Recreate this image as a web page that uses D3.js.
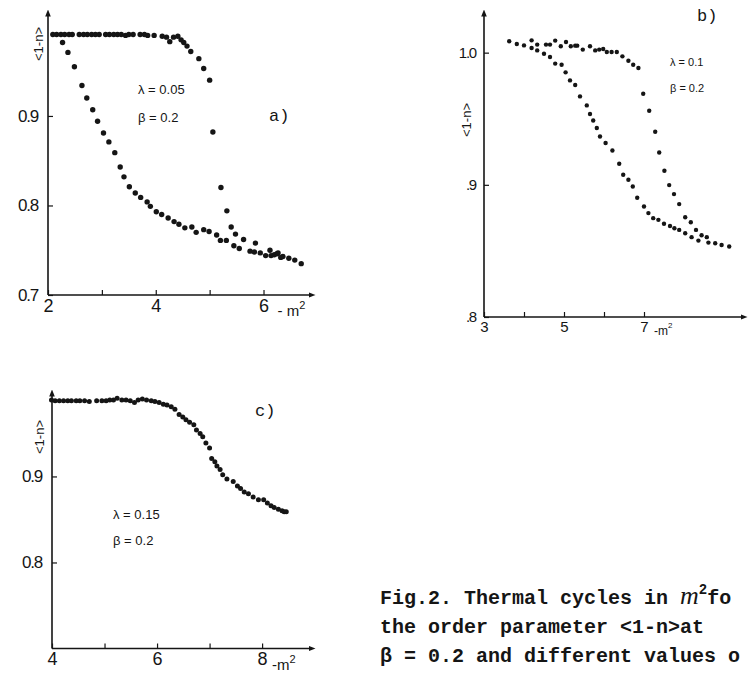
<!DOCTYPE html>
<html lang="en">
<head>
<meta charset="utf-8">
<script src="https://cdn.jsdelivr.net/npm/d3@7"></script>
<style>
  body { margin: 0; background: #fff; }
  text { fill: #151515; }
  .tick text { font-family: "Liberation Sans", Arial, sans-serif; }
  .mono { font-family: "Liberation Mono", "DejaVu Sans Mono", monospace; }
</style>
</head>
<body>
<div id="chart"></div>
<script>
// panel a) lambda = 0.05
var aUpper = [
  [2.09,0.991],[2.16,0.991],[2.24,0.991],[2.31,0.991],[2.39,0.991],[2.45,0.991],
  [2.58,0.991],[2.66,0.991],[2.73,0.991],[2.81,0.991],[2.88,0.991],[2.95,0.991],
  [3.07,0.991],[3.14,0.991],[3.22,0.991],[3.29,0.991],[3.36,0.991],[3.44,0.990],
  [3.50,0.991],[3.58,0.991],[3.71,0.991],[3.79,0.991],[3.85,0.990],[3.97,0.990],
  [4.12,0.989],[4.20,0.988],[4.26,0.983],[4.33,0.988],[4.41,0.989],[4.47,0.985],
  [4.52,0.982],[4.58,0.978],[4.65,0.972],[4.80,0.964],[4.89,0.953],[5.00,0.940],
  [5.06,0.882],[5.21,0.820],[5.32,0.794],[5.40,0.776],[5.48,0.768],[5.63,0.762],
  [5.85,0.758],[6.12,0.750],[6.25,0.746],[6.36,0.743]
];
var aLower = [
  [2.27,0.982],[2.37,0.971],[2.49,0.955],[2.63,0.934],[2.72,0.920],[2.83,0.907],
  [2.92,0.894],[3.03,0.881],[3.13,0.871],[3.24,0.859],[3.34,0.843],[3.41,0.832],
  [3.51,0.821],[3.62,0.814],[3.72,0.809],[3.84,0.804],[3.90,0.799],[4.01,0.793],
  [4.11,0.790],[4.23,0.786],[4.34,0.782],[4.43,0.779],[4.54,0.775],[4.67,0.776],
  [4.75,0.770],[4.89,0.773],[4.99,0.771],[5.13,0.767],[5.20,0.761],[5.31,0.761],
  [5.45,0.755],[5.55,0.752],[5.75,0.749],[5.83,0.748],[5.94,0.747],[6.04,0.744],
  [6.14,0.744],[6.20,0.745],[6.27,0.747],[6.32,0.742],[6.47,0.741],[6.58,0.739],
  [6.70,0.735]
];
var aXTicks = [2, 3, 4, 5, 6];
var aXLabels = [2, 4, 6];
var aYTicks = [0.7, 0.8, 0.9];
var aYLabels = ["0.7", "0.8", "0.9"];

// panel b) lambda = 0.1
var bUpper = [
  [4.19,1.0093],[4.33,1.0061],[4.55,1.0061],[4.65,1.0061],[4.78,1.0091],[4.92,1.0048],
  [5.05,1.0081],[5.17,1.0048],[5.28,1.0053],[5.33,1.0053],[5.47,1.0023],[5.65,1.0048],
  [5.78,1.0017],[5.88,1.0023],[5.98,1.0028],[6.07,1.0005],[6.19,1.0005],[6.32,1.0005],
  [6.46,0.9972],[6.61,0.9939],[6.73,0.9909],[6.86,0.9884],[6.98,0.9689],[7.13,0.9561],
  [7.28,0.9402],[7.38,0.9245],[7.51,0.9106],[7.63,0.8998],[7.75,0.8930],[7.88,0.8854],
  [8.03,0.8755],[8.17,0.8717],[8.30,0.8659],[8.44,0.8619],[8.57,0.8604]
];
var bLower = [
  [3.63,1.0086],[3.82,1.0066],[4.00,1.0055],[4.19,1.0035],[4.33,1.0017],[4.50,0.9992],
  [4.65,0.9967],[4.78,0.9917],[4.94,0.9909],[5.04,0.9851],[5.15,0.9790],[5.28,0.9755],
  [5.40,0.9669],[5.57,0.9601],[5.65,0.9536],[5.73,0.9487],[5.82,0.9430],[5.90,0.9366],
  [6.04,0.9316],[6.21,0.9260],[6.38,0.9159],[6.48,0.9076],[6.61,0.9038],[6.72,0.8987],
  [6.83,0.8902],[7.00,0.8836],[7.11,0.8786],[7.23,0.8748],[7.36,0.8735],[7.50,0.8705],
  [7.65,0.8689],[7.76,0.8672],[7.88,0.8659],[8.03,0.8634],[8.19,0.8604],[8.36,0.8578],
  [8.61,0.8563],[8.78,0.8558],[8.94,0.8545],[9.13,0.8533]
];
var bXTicks = [3, 4, 5, 6, 7];
var bXLabels = [3, 5, 7];
var bYTicks = [0.8, 0.9, 1.0];
var bYLabels = [".8", ".9", "1.0"];

// panel c) lambda = 0.15
var cCurve = [
  [3.99,0.989],[4.06,0.988],[4.14,0.988],[4.22,0.988],[4.30,0.988],[4.37,0.988],
  [4.46,0.988],[4.53,0.988],[4.62,0.988],[4.71,0.987],[4.85,0.988],[4.95,0.988],
  [5.03,0.988],[5.10,0.989],[5.17,0.989],[5.24,0.991],[5.33,0.989],[5.41,0.989],
  [5.49,0.988],[5.57,0.986],[5.64,0.989],[5.72,0.990],[5.80,0.989],[5.89,0.988],
  [5.96,0.987],[6.04,0.986],[6.12,0.984],[6.19,0.983],[6.27,0.981],[6.34,0.978],
  [6.42,0.972],[6.49,0.969],[6.55,0.966],[6.62,0.963],[6.70,0.960],[6.75,0.954],
  [6.82,0.950],[6.87,0.946],[6.93,0.939],[7.00,0.933],[7.04,0.921],[7.10,0.917],
  [7.14,0.912],[7.20,0.908],[7.25,0.902],[7.33,0.897],[7.45,0.894],[7.53,0.889],
  [7.59,0.886],[7.66,0.882],[7.74,0.880],[7.83,0.876],[7.93,0.873],[8.03,0.873],
  [8.10,0.869],[8.17,0.866],[8.23,0.864],[8.31,0.862],[8.38,0.860],[8.42,0.859],
  [8.46,0.859]
];
var cXTicks = [4, 5, 6, 7, 8];
var cXLabels = [4, 6, 8];
var cYTicks = [0.8, 0.9];
var cYLabels = ["0.8", "0.9"];

var captionLines = [
  "Fig.2. Thermal cycles in ",
  "the order parameter <1-n>at",
  "\u03b2 = 0.2 and different values o"
];

var ink = "#151515";

var svg = d3.select("#chart").append("svg")
  .attr("width", 754)
  .attr("height", 673);

svg.append("defs").append("marker")
  .attr("id", "arrow")
  .attr("viewBox", "0 0 10 10")
  .attr("refX", 5).attr("refY", 5)
  .attr("markerWidth", 7).attr("markerHeight", 7)
  .attr("markerUnits", "userSpaceOnUse")
  .attr("orient", "auto")
  .append("path")
  .attr("d", "M0,1L10,5L0,9Z")
  .attr("fill", ink);

function panel(p) {
  var g = svg.append("g");
  var x = p.x, y = p.y;
  var x0 = x.range()[0], x1 = x.range()[1];
  var y0 = y.range()[0], y1 = y.range()[1];

  // axis lines with arrow heads
  g.append("line")
    .attr("x1", x0).attr("y1", y0).attr("x2", x1).attr("y2", y0)
    .attr("stroke", ink).attr("stroke-width", 1.6)
    .attr("marker-end", "url(#arrow)");
  g.append("line")
    .attr("x1", x0).attr("y1", y0).attr("x2", x0).attr("y2", y1)
    .attr("stroke", ink).attr("stroke-width", 1.6)
    .attr("marker-end", "url(#arrow)");

  var xAxis = d3.axisBottom(x)
    .tickValues(p.xTicks)
    .tickSizeInner(-5).tickSizeOuter(0)
    .tickPadding(p.xPad)
    .tickFormat(d => p.xLabels.indexOf(d) >= 0 ? d : "");
  var gx = g.append("g")
    .attr("transform", `translate(0, ${y0})`)
    .call(xAxis);
  gx.select(".domain").remove();
  gx.selectAll("line").attr("stroke", ink).attr("stroke-width", 1.2);
  gx.selectAll("text").attr("fill", ink)
    .style("font-size", p.xFont + "px");

  var yAxis = d3.axisLeft(y)
    .tickValues(p.yTicks)
    .tickSizeInner(-5).tickSizeOuter(0)
    .tickPadding(p.yPad)
    .tickFormat((d, i) => p.yLabels[i]);
  var gy = g.append("g")
    .attr("transform", `translate(${x0}, 0)`)
    .call(yAxis);
  gy.select(".domain").remove();
  gy.selectAll("line").attr("stroke", ink).attr("stroke-width", 1.2);
  gy.selectAll("text").attr("fill", ink)
    .style("font-size", p.yFont + "px")
    .style("letter-spacing", "-1.2px");

  // "- m^2" at the end of the x axis
  var m = g.append("text")
    .attr("x", x(p.xLabels[p.xLabels.length - 1]) + p.mOff)
    .attr("y", y0 + p.xPad + p.xFont * 0.95)
    .style("font-family", "Liberation Sans, Arial, sans-serif")
    .style("font-size", (p.xFont - 3) + "px");
  m.append("tspan").text(p.mText);
  m.append("tspan").attr("dy", -7).style("font-size", (p.xFont - 7) + "px").text("2");

  // rotated axis title <1-n>
  g.append("text")
    .attr("transform", `translate(${p.titleX}, ${p.titleY}) rotate(-90)`)
    .attr("text-anchor", "middle")
    .style("font-family", "Liberation Sans, Arial, sans-serif")
    .style("font-size", "13px")
    .text("<1-n>");

  // data points
  p.series.forEach(function(s) {
    g.append("g").selectAll("circle")
      .data(s).enter()
      .append("circle")
      .attr("cx", d => x(d[0]))
      .attr("cy", d => y(d[1]))
      .attr("r", p.r)
      .attr("fill", ink);
  });

  // parameters and panel letter
  p.notes.forEach(function(n) {
    g.append("text")
      .attr("x", n[0]).attr("y", n[1])
      .style("font-family", "Liberation Sans, Arial, sans-serif")
      .style("font-size", p.noteFont + "px")
      .text(n[2]);
  });
  g.append("text")
    .attr("class", "mono")
    .attr("x", p.letter[0]).attr("y", p.letter[1])
    .style("font-size", "17px")
    .text(p.letter[2]);
}

panel({
  x: d3.scaleLinear().domain([2, 6.9]).range([48, 312]),
  y: d3.scaleLinear().domain([0.7, 1.015]).range([295, 13]),
  xTicks: aXTicks, xLabels: aXLabels, yTicks: aYTicks, yLabels: aYLabels,
  xPad: 4, yPad: 10, xFont: 18, yFont: 17, mOff: 14, mText: "- m",
  titleX: 43, titleY: 44, r: 2.7, series: [aUpper, aLower], noteFont: 13,
  notes: [[138, 94, "\u03bb = 0.05"], [138, 122, "\u03b2 = 0.2"]],
  letter: [269, 121, "a)"]
});

panel({
  x: d3.scaleLinear().domain([3, 9.5]).range([484, 744]),
  y: d3.scaleLinear().domain([0.8, 1.03]).range([317, 13]),
  xTicks: bXTicks, xLabels: bXLabels, yTicks: bYTicks, yLabels: bYLabels,
  xPad: 4, yPad: 8, xFont: 15, yFont: 15, mOff: 10, mText: "-m",
  titleX: 471, titleY: 120, r: 2.2, series: [bUpper, bLower], noteFont: 11,
  notes: [[670, 66, "\u03bb = 0.1"], [670, 92, "\u03b2 = 0.2"]],
  letter: [697, 21, "b)"]
});

panel({
  x: d3.scaleLinear().domain([4, 8.95]).range([52, 312]),
  y: d3.scaleLinear().domain([0.7, 0.997]).range([648.5, 393]),
  xTicks: cXTicks, xLabels: cXLabels, yTicks: cYTicks, yLabels: cYLabels,
  xPad: 4, yPad: 10, xFont: 18, yFont: 17, mOff: 10, mText: "-m",
  titleX: 44, titleY: 437, r: 2.5, series: [cCurve], noteFont: 13,
  notes: [[113, 519, "\u03bb = 0.15"], [113, 545, "\u03b2 = 0.2"]],
  letter: [255, 416, "c)"]
});

// caption (typewriter)
var cap = svg.append("g")
  .attr("class", "mono")
  .style("font-size", "20px")
  .style("font-weight", "bold");
captionLines.forEach(function(t, i) {
  var tx = cap.append("text")
    .attr("x", 380)
    .attr("y", 604 + i * 29)
    .attr("xml:space", "preserve")
    .style("white-space", "pre");
  tx.append("tspan").text(t);
  if (i === 0) {
    tx.append("tspan")
      .style("font-family", "Liberation Serif, serif")
      .style("font-style", "italic")
      .style("font-weight", "normal")
      .style("font-size", "26px")
      .text("m");
    tx.append("tspan").attr("dy", -10).style("font-size", "14px").text("2");
    tx.append("tspan").attr("dy", 10).text("fo");
  }
});
</script>
</body>
</html>
